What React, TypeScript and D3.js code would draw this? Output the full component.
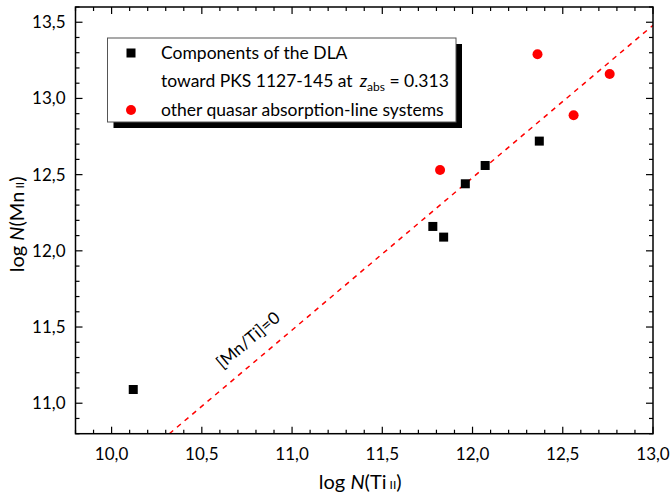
import React from "react";
import * as d3 from "d3";

// Components of the DLA toward PKS 1127-145
const dlaTi = [10.12, 11.78, 11.84, 11.96, 12.07, 12.37];
const dlaMn = [11.09, 12.16, 12.09, 12.44, 12.56, 12.72];
// other quasar absorption-line systems
const qsoTi = [11.82, 12.36, 12.56, 12.76];
const qsoMn = [12.53, 13.29, 12.89, 13.16];

const xTicks = [10.0, 10.5, 11.0, 11.5, 12.0, 12.5, 13.0];
const yTicks = [11.0, 11.5, 12.0, 12.5, 13.0, 13.5];
const solarOffset = 0.48; // [Mn/Ti]=0
const xDomain = [9.8, 13.0];
const yDomain = [10.8, 13.6];

const W = 671;
const H = 497;
const L = 75.5, R = 653, T = 7, B = 433.7;
const FONT = "Lato, 'Open Sans', sans-serif";

const fmt = (v: number) => d3.format(".1f")(v).replace(".", ",");

export default function App() {
  const x = d3.scaleLinear().domain(xDomain).range([L, R]);
  const y = d3.scaleLinear().domain(yDomain).range([B, T]);

  const xMinor = d3.range(Math.round(xDomain[0] * 10), Math.round(xDomain[1] * 10) + 1).map((v) => v / 10);
  const yMinor = d3.range(Math.round(yDomain[0] * 10), Math.round(yDomain[1] * 10) + 1).map((v) => v / 10);
  const isMajor = (v: number) => Math.abs(v * 2 - Math.round(v * 2)) < 1e-6;

  const lineStart = yDomain[0] - solarOffset;
  const lineEnd = xDomain[1];
  const linePts: [number, number][] = [
    [lineStart, lineStart + solarOffset],
    [lineEnd, lineEnd + solarOffset],
  ];
  const lineGen = d3.line<[number, number]>().x((d) => x(d[0])).y((d) => y(d[1]));

  const slopeAngle = (Math.atan((y(10) - y(11)) / (x(11) - x(10))) * 180) / Math.PI;
  const lblTi = 10.8;
  const lblX = x(lblTi) - 4;
  const lblY = y(lblTi + solarOffset) - 16;

  const sq = 9;
  const lx = 107.5, ly = 38, lw = 348.5, lh = 84;

  return (
    <svg width={W} height={H} style={{ position: "absolute", left: 0, top: 0, background: "#fff" }} fontFamily={FONT}>
      <defs>
        <clipPath id="plotclip">
          <rect x={L} y={T} width={R - L} height={B - T} />
        </clipPath>
      </defs>
      <rect x={0} y={0} width={W} height={H} fill="#fff" />

      {/* reference line */}
      <path
        d={lineGen(linePts) || ""}
        stroke="#ff0000"
        strokeWidth={1.5}
        strokeDasharray="5,5"
        fill="none"
        clipPath="url(#plotclip)"
      />
      <text
        transform={`translate(${lblX},${lblY}) rotate(${-slopeAngle})`}
        fontSize={17}
        fill="#000"
        textAnchor="middle"
      >
        [Mn/Ti]=0
      </text>

      {/* data */}
      {dlaTi.map((t, i) => (
        <rect key={"d" + i} x={x(t) - sq / 2} y={y(dlaMn[i]) - sq / 2} width={sq} height={sq} fill="#000" />
      ))}
      {qsoTi.map((t, i) => (
        <circle key={"q" + i} cx={x(t)} cy={y(qsoMn[i])} r={5} fill="#ff0000" />
      ))}

      {/* frame */}
      <rect x={L} y={T} width={R - L} height={B - T} fill="none" stroke="#000" strokeWidth={1.5} />

      {/* x ticks bottom and top (inward) */}
      {xMinor.map((v, i) => {
        const len = isMajor(v) ? 7 : 4;
        return (
          <g key={"xt" + i} stroke="#000" strokeWidth={1.2}>
            <line x1={x(v)} x2={x(v)} y1={B} y2={B - len} />
            <line x1={x(v)} x2={x(v)} y1={T} y2={T + len} />
          </g>
        );
      })}
      {yMinor.map((v, i) => {
        const len = isMajor(v) ? 7 : 4;
        return (
          <g key={"yt" + i} stroke="#000" strokeWidth={1.2}>
            <line x1={L} x2={L + len} y1={y(v)} y2={y(v)} />
            <line x1={R} x2={R - len} y1={y(v)} y2={y(v)} />
          </g>
        );
      })}

      {/* tick labels */}
      {xTicks.map((v) => (
        <text key={"xl" + v} x={x(v)} y={B + 26} fontSize={17} textAnchor="middle" fill="#000">
          {fmt(v)}
        </text>
      ))}
      {yTicks.map((v) => (
        <text key={"yl" + v} x={L - 10} y={y(v) + 6} fontSize={17} textAnchor="end" fill="#000">
          {fmt(v)}
        </text>
      ))}

      {/* axis titles */}
      <text x={(L + R) / 2 - 4} y={489} fontSize={20} textAnchor="middle" fill="#000">
        log <tspan fontStyle="italic">N</tspan>(Ti<tspan fontSize={12}> II</tspan>)
      </text>
      <text transform={`translate(24,${(T + B) / 2 + 4}) rotate(-90)`} fontSize={20} textAnchor="middle" fill="#000">
        log <tspan fontStyle="italic">N</tspan>(Mn<tspan fontSize={12}> II</tspan>)
      </text>

      {/* legend */}
      <rect x={lx + 6} y={ly + 6} width={lw} height={lh} fill="#000" />
      <rect x={lx} y={ly} width={lw} height={lh} fill="#fff" stroke="#555" strokeWidth={1} />
      <rect x={131 - 4.5} y={53 - 4.5} width={9} height={9} fill="#000" />
      <text x={161} y={59} fontSize={17.5} fill="#000">Components of the DLA</text>
      <text x={161} y={87} fontSize={17.5} fill="#000">
        toward PKS 1127-145 at
        <tspan fontStyle="italic" dx={7}>z</tspan>
        <tspan fontSize={12} dy={4}>abs</tspan>
        <tspan dy={-4}> = 0.313</tspan>
      </text>
      <circle cx={131} cy={110} r={5} fill="#ff0000" />
      <text x={161} y={116} fontSize={17.5} fill="#000">other quasar absorption-line systems</text>
    </svg>
  );
}
